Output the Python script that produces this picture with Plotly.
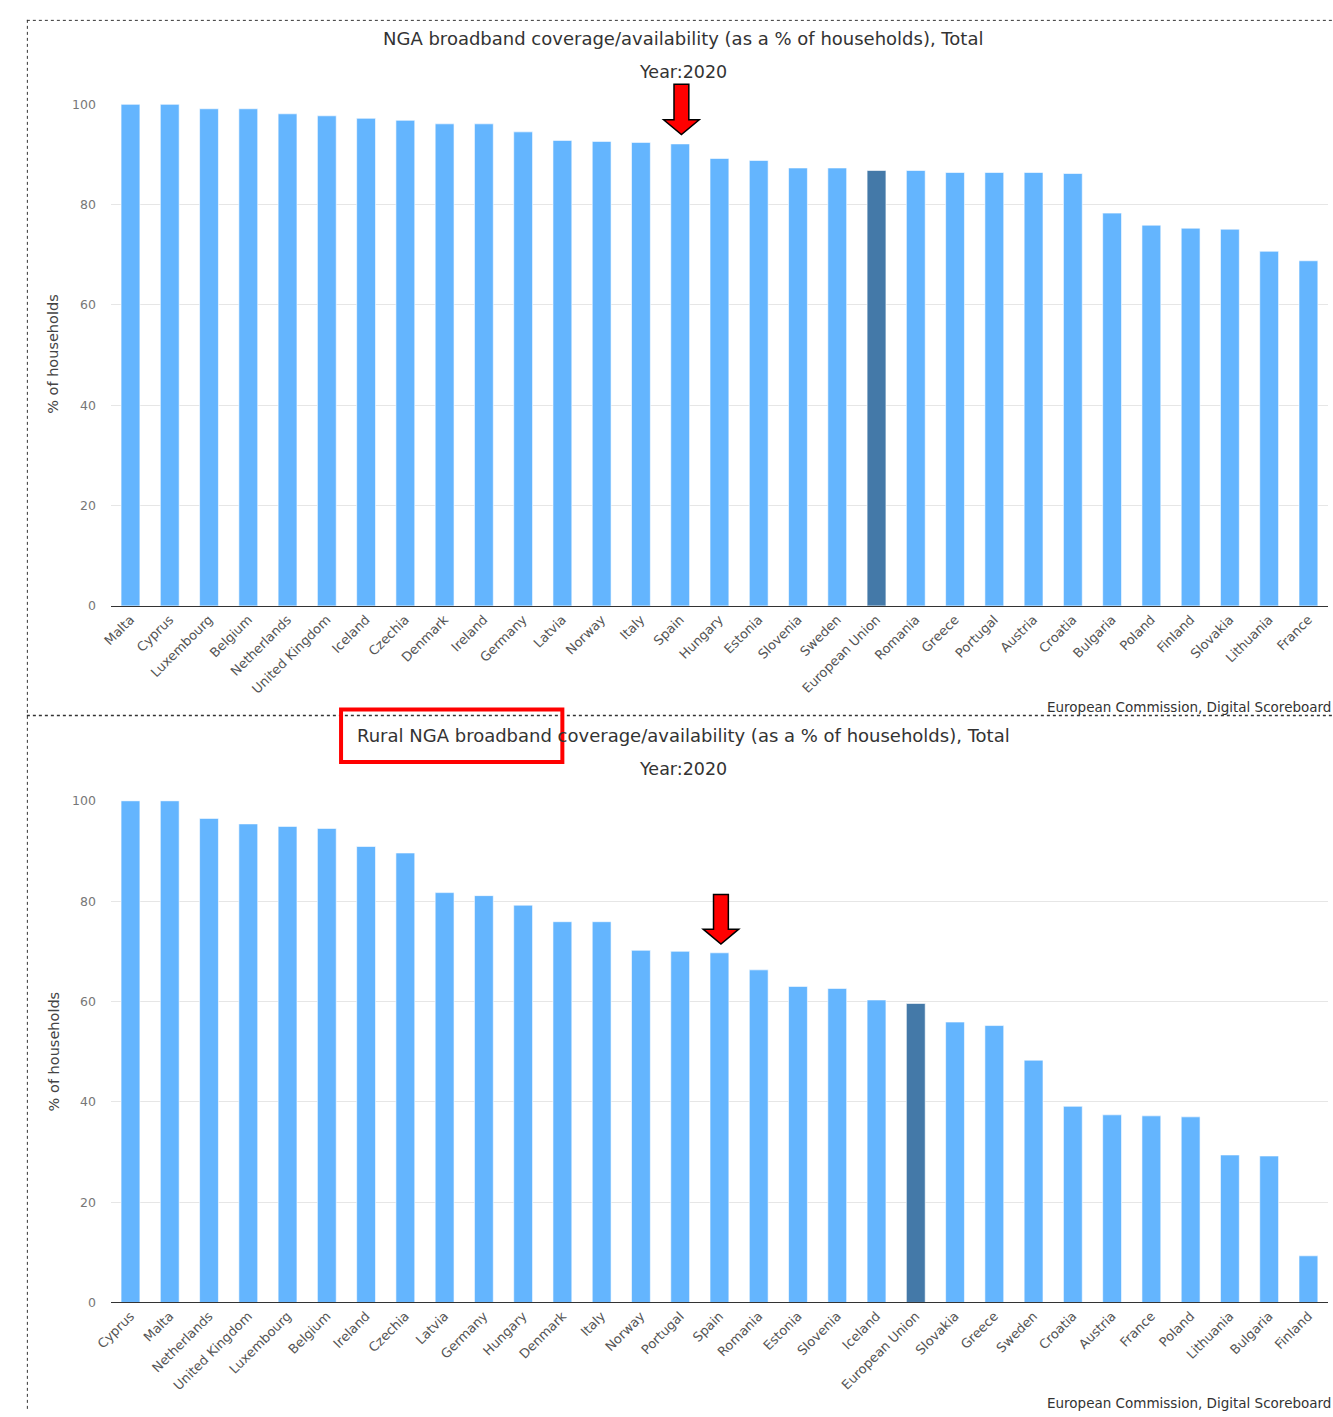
import plotly.graph_objects as go

# ---------------- data ----------------
top_countries = ["Malta", "Cyprus", "Luxembourg", "Belgium", "Netherlands", "United Kingdom",
                 "Iceland", "Czechia", "Denmark", "Ireland", "Germany", "Latvia", "Norway",
                 "Italy", "Spain", "Hungary", "Estonia", "Slovenia", "Sweden", "European Union",
                 "Romania", "Greece", "Portugal", "Austria", "Croatia", "Bulgaria", "Poland",
                 "Finland", "Slovakia", "Lithuania", "France"]
top_values = [100.0, 100.0, 99.1, 99.1, 98.1, 97.7, 97.2, 96.8, 96.1, 96.1, 94.5, 92.8, 92.6,
              92.4, 92.1, 89.2, 88.8, 87.3, 87.3, 86.8, 86.8, 86.4, 86.4, 86.4, 86.2, 78.3,
              75.9, 75.3, 75.1, 70.7, 68.8]

bottom_countries = ["Cyprus", "Malta", "Netherlands", "United Kingdom", "Luxembourg", "Belgium",
                    "Ireland", "Czechia", "Latvia", "Germany", "Hungary", "Denmark", "Italy",
                    "Norway", "Portugal", "Spain", "Romania", "Estonia", "Slovenia", "Iceland",
                    "European Union", "Slovakia", "Greece", "Sweden", "Croatia", "Austria",
                    "France", "Poland", "Lithuania", "Bulgaria", "Finland"]
bottom_values = [100.0, 100.0, 96.5, 95.4, 94.9, 94.5, 90.9, 89.6, 81.7, 81.1, 79.2, 75.9, 75.9,
                 70.2, 70.0, 69.7, 66.3, 63.0, 62.6, 60.3, 59.6, 55.9, 55.2, 48.3, 39.1, 37.4,
                 37.2, 37.0, 29.4, 29.2, 9.3]

y_ticks = [0, 20, 40, 60, 80, 100]
title_top = "NGA broadband coverage/availability (as a % of households), Total"
title_bottom = "Rural NGA broadband coverage/availability (as a % of households), Total"
subtitle = "Year:2020"
y_title = "% of households"
credits = "European Commission, Digital Scoreboard"
highlight = "European Union"

# ---------------- layout helpers ----------------
W, H = 1333, 1417
FONT = "DejaVu Sans"
LIGHT = "#64b5fe"
DARK = "#4479a8"


def px(x):
    return x / W


def py(y):
    return 1 - y / H


def colors(cats):
    return [DARK if c == highlight else LIGHT for c in cats]


fig = go.Figure()
fig.add_trace(go.Bar(x=top_countries, y=top_values, marker=dict(color=colors(top_countries),
                     line=dict(color="rgba(255,255,255,0.6)", width=1)),
                     xaxis="x", yaxis="y", hoverinfo="x+y"))
fig.add_trace(go.Bar(x=bottom_countries, y=bottom_values, marker=dict(color=colors(bottom_countries),
                     line=dict(color="rgba(255,255,255,0.6)", width=1)),
                     xaxis="x2", yaxis="y2", hoverinfo="x+y"))

xaxis_common = dict(domain=[px(96), px(1328)], showline=True, linecolor="#333333", linewidth=1,
                    showgrid=False, tickangle=-45, ticks="", fixedrange=True,
                    tickfont=dict(family=FONT, size=13, color="#555555"))
yaxis_common = dict(range=[0, 100], tickvals=y_ticks, showgrid=True, gridcolor="#e6e6e6",
                    gridwidth=1, zeroline=False, showline=False, ticks="",
                    ticklabelstandoff=14, fixedrange=True,
                    tickfont=dict(family=FONT, size=12.5, color="#777777"))

fig.update_layout(
    width=W, height=H, margin=dict(l=0, r=0, t=0, b=0),
    paper_bgcolor="white", plot_bgcolor="white", showlegend=False,
    bargap=0.52,
    xaxis=dict(**xaxis_common, anchor="y"),
    yaxis=dict(**yaxis_common, domain=[py(604.3), py(97.3)], anchor="x"),
    xaxis2=dict(**xaxis_common, anchor="y2"),
    yaxis2=dict(**yaxis_common, domain=[py(1308.3), py(801.3)], anchor="x2"),
)

ann = []
for ty, sy, yt, cy in [(31, 65, 350, 706), (735, 769, 1055, 1410)]:
    t = title_top if ty == 31 else title_bottom
    ann.append(dict(text=t, x=px(675.5), y=py(ty), xref="paper", yref="paper",
                    xanchor="center", yanchor="middle", showarrow=False,
                    font=dict(family=FONT, size=18, color="#333333")))
    ann.append(dict(text=subtitle, x=px(675.5), y=py(sy), xref="paper", yref="paper",
                    xanchor="center", yanchor="middle", showarrow=False,
                    font=dict(family=FONT, size=17.5, color="#333333")))
    ann.append(dict(text=y_title, x=px(38), y=py(yt), xref="paper", yref="paper",
                    xanchor="center", yanchor="middle", showarrow=False, textangle=-90,
                    font=dict(family=FONT, size=14.5, color="#444444")))
    ann.append(dict(text=credits, x=px(1333), y=py(cy), xref="paper", yref="paper",
                    xanchor="right", yanchor="middle", showarrow=False,
                    font=dict(family=FONT, size=13.5, color="#333333")))
fig.update_layout(annotations=ann)


def arrow_path(cx, top, head_y, tip, shaft_hw=7.5, head_hw=18):
    pts = [(cx - shaft_hw, top), (cx + shaft_hw, top), (cx + shaft_hw, head_y),
           (cx + head_hw, head_y), (cx, tip), (cx - head_hw, head_y), (cx - shaft_hw, head_y)]
    return "M " + " L ".join(f"{px(x):.5f},{py(y):.5f}" for x, y in pts) + " Z"


shapes = [
    # dotted panel borders
    dict(type="line", xref="paper", yref="paper", x0=px(11.5), x1=px(11.5), y0=py(12), y1=py(1417),
         line=dict(color="#333333", width=1, dash="dot")),
    dict(type="line", xref="paper", yref="paper", x0=px(11), x1=px(1333), y0=py(12.5), y1=py(12.5),
         line=dict(color="#333333", width=1, dash="dot")),
    dict(type="line", xref="paper", yref="paper", x0=px(11), x1=px(1333), y0=py(715), y1=py(715),
         line=dict(color="#333333", width=1.5, dash="dot")),
    # red arrows
    dict(type="path", xref="paper", yref="paper", path=arrow_path(673.5, 77, 113, 128),
         fillcolor="#ff0000", line=dict(color="#000000", width=1.5)),
    dict(type="path", xref="paper", yref="paper", path=arrow_path(713.5, 896, 931, 946),
         fillcolor="#ff0000", line=dict(color="#000000", width=1.5)),
    # red box around "Rural NGA broadband"
    dict(type="rect", xref="paper", yref="paper", x0=px(329), x1=px(553), y0=py(709), y1=py(762),
         line=dict(color="#ff0000", width=4), fillcolor="rgba(0,0,0,0)"),
]
fig.update_layout(shapes=shapes)

fig.write_html("out.html", config={"displayModeBar": False},
               post_script="document.body.style.margin='0';document.body.style.overflow='hidden';"
                           "document.documentElement.style.overflow='hidden';")
